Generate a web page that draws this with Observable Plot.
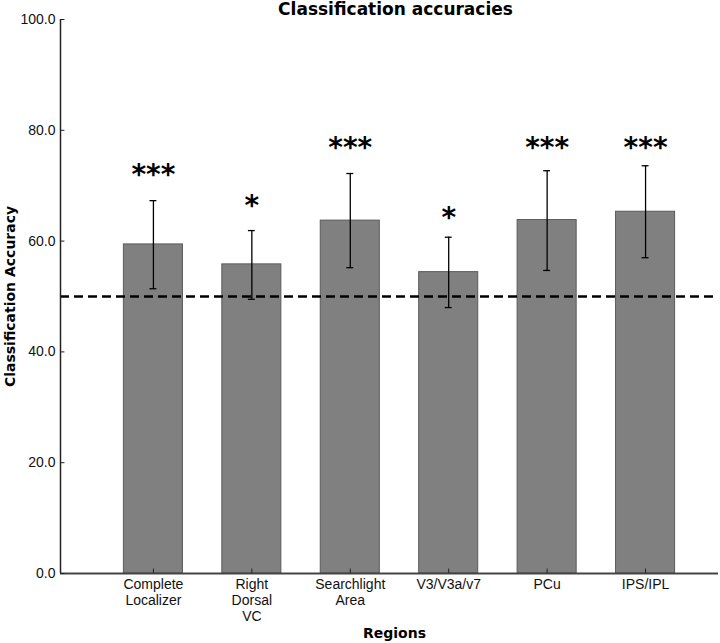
<!DOCTYPE html>
<html><head><meta charset="utf-8">
<script src="https://cdn.jsdelivr.net/npm/d3@7"></script>
<script src="https://cdn.jsdelivr.net/npm/@observablehq/plot@0.6"></script>
<style>body{margin:0;background:#fff}</style>
</head><body><div id="chart"></div>
<script>
const categories = ["Complete\nLocalizer", "Right\nDorsal\nVC", "Searchlight\nArea", "V3/V3a/v7", "PCu", "IPS/IPL"];
const accuracy = [59.4, 55.8, 63.7, 54.4, 63.8, 65.3];
const errLow = [51.4, 49.5, 55.2, 48.0, 54.7, 57.0];
const errHigh = [67.3, 61.9, 72.2, 60.7, 72.7, 73.6];
const stars = ["***", "*", "***", "*", "***", "***"];
const starY = [72.7, 67.0, 77.6, 64.8, 77.6, 77.6];
const yTicks = [0, 20, 40, 60, 80, 100];
const chance = 50;

const data = categories.map((c, i) => ({i, c, v: accuracy[i], lo: errLow[i], hi: errHigh[i], s: stars[i], sy: starY[i]}));
const xDom = [-0.944, 5.741];
const idx = data.map(d => d.i);

const chart = Plot.plot({
  width: 720, height: 643,
  marginLeft: 60, marginRight: 2, marginTop: 19, marginBottom: 70,
  style: {fontFamily: "Liberation Sans, Arial, sans-serif", fontSize: "14px", background: "#fff"},
  x: {type: "linear", domain: xDom, axis: null},
  y: {domain: [0, 100], axis: null},
  marks: [
    Plot.rectY(data, {x1: d => d.i - 0.3, x2: d => d.i + 0.3, y1: 0, y2: "v", fill: "#808080", stroke: "#5a5a5a", strokeWidth: 1}),
    Plot.ruleY([chance], {stroke: "#000", strokeWidth: 2.5, strokeDasharray: "9,5"}),
    Plot.ruleX(data, {x: "i", y1: "lo", y2: "hi", stroke: "#000", strokeWidth: 1.3}),
    Plot.ruleY(data, {y: "lo", x1: d => d.i - 0.035, x2: d => d.i + 0.035, stroke: "#000", strokeWidth: 1.3}),
    Plot.ruleY(data, {y: "hi", x1: d => d.i - 0.035, x2: d => d.i + 0.035, stroke: "#000", strokeWidth: 1.3}),
    Plot.text(data, {x: "i", y: "sy", text: "s", fontFamily: "DejaVu Sans", fontWeight: "bold", fontSize: 28, lineAnchor: "middle", dy: 4, fill: "#000"}),
    // spines
    Plot.ruleX([xDom[0]], {y1: 0, y2: 100, stroke: "#222", strokeWidth: 1.5}),
    Plot.ruleY([0], {x1: xDom[0], x2: xDom[1], stroke: "#444", strokeWidth: 1.8}),
    // inward ticks
    Plot.ruleY(yTicks, {x1: xDom[0], x2: xDom[0] + 0.045, stroke: "#222", strokeWidth: 1}),
    Plot.ruleX(idx, {y1: 0, y2: 0.8, stroke: "#222", strokeWidth: 1}),
    // tick labels
    Plot.text(yTicks, {x: xDom[0], y: d => d, text: d => d.toFixed(1), textAnchor: "end", dx: -5, fill: "#111", fontSize: 14}),
    Plot.text(data, {x: "i", y: 0, text: "c", lineAnchor: "top", dy: 4, lineHeight: 1.15, fill: "#111", fontSize: 14}),
    // titles
    Plot.text(["Classification accuracies"], {frameAnchor: "top", lineAnchor: "middle", dy: -10, dx: 6, fontFamily: "DejaVu Sans", fontWeight: "bold", fontSize: 17, fill: "#000"}),
    Plot.text(["Regions"], {frameAnchor: "bottom", lineAnchor: "middle", dy: 60, dx: 5, fontFamily: "DejaVu Sans", fontWeight: "bold", fontSize: 14, fill: "#000"}),
    Plot.text(["Classification Accuracy"], {frameAnchor: "left", textAnchor: "middle", dx: -50, rotate: -90, fontFamily: "DejaVu Sans", fontWeight: "bold", fontSize: 14, fill: "#000"})
  ]
});
document.getElementById("chart").appendChild(chart);
</script></body></html>
